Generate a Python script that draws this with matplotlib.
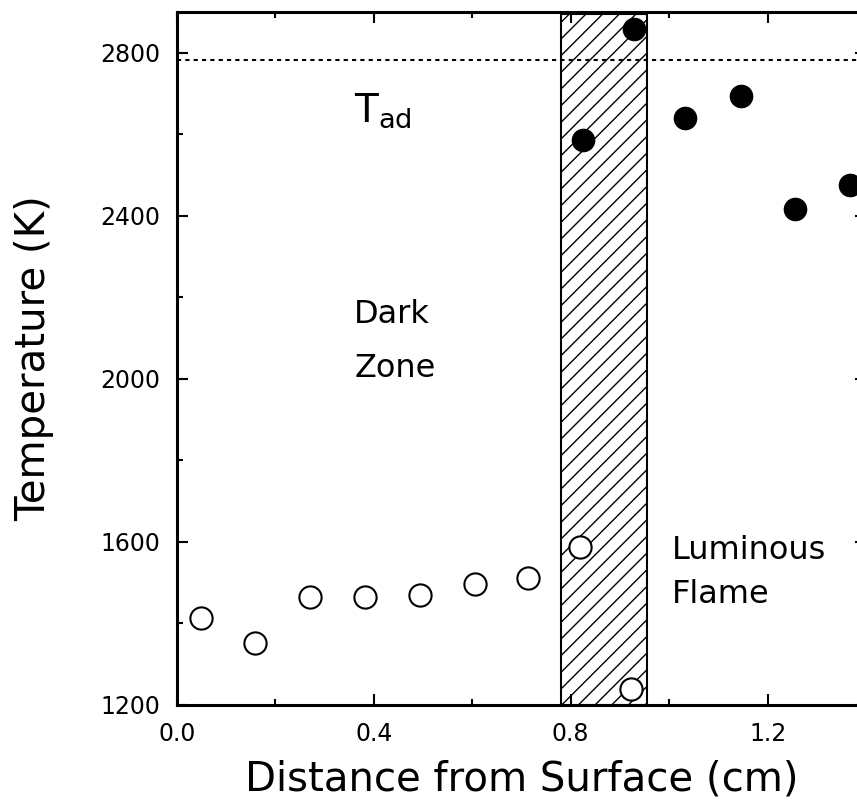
import matplotlib
matplotlib.use("Agg")
import matplotlib.pyplot as plt
from matplotlib.patches import Rectangle
from matplotlib.ticker import MultipleLocator

# Data
dark_x = [0.049, 0.158, 0.270, 0.382, 0.493, 0.605, 0.713, 0.818, 0.922]
dark_T = [1413, 1352, 1465, 1465, 1470, 1497, 1512, 1588, 1240]
lum_x = [0.824, 0.928, 1.033, 1.145, 1.255, 1.367]
lum_T = [2586, 2859, 2640, 2694, 2417, 2476]
T_ad = 2783
band_x = [0.780, 0.955]
band_top = 2895
x_ticks = [0.0, 0.4, 0.8, 1.2]
x_ticklabels = ["0.0", "0.4", "0.8", "1.2"]
y_ticks = [1200, 1600, 2000, 2400, 2800]

plt.rcParams['font.family'] = ['DejaVu Sans']
plt.rcParams['hatch.linewidth'] = 1.0

fig = plt.figure(figsize=(8.57, 8.08), dpi=100)
ax = fig.add_axes([177/857, 103/808, (866-177)/857, 693/808])

ax.set_xlim(0, 1.4)
ax.set_ylim(1200, 2900)

# hatched band
ax.add_patch(Rectangle((band_x[0], 1200), band_x[1]-band_x[0], band_top-1200,
                       facecolor='white', edgecolor='black', hatch='//',
                       linewidth=1.5, zorder=1))

# adiabatic temperature
ax.axhline(T_ad, color='black', linestyle=(0, (2, 2)), linewidth=1.5, zorder=2)

ax.plot(dark_x, dark_T, linestyle='none', marker='o', ms=16,
        mfc='white', mec='black', mew=1.5, zorder=3)
ax.plot(lum_x, lum_T, linestyle='none', marker='o', ms=16,
        mfc='black', mec='black', zorder=3)

# annotations
ax.text(0.36, 2630, r'$\mathregular{T_{ad}}$', fontsize=28, ha='left', va='baseline')
ax.text(0.36, 2137, 'Dark', fontsize=23, ha='left', va='baseline')
ax.text(0.36, 2005, 'Zone', fontsize=23, ha='left', va='baseline')
ax.text(1.005, 1558, 'Luminous', fontsize=23, ha='left', va='baseline')
ax.text(1.005, 1450, 'Flame', fontsize=23, ha='left', va='baseline')

ax.set_xticks(x_ticks)
ax.set_xticklabels(x_ticklabels)
ax.set_yticks(y_ticks)
ax.xaxis.set_minor_locator(MultipleLocator(0.2))
ax.yaxis.set_minor_locator(MultipleLocator(200))
ax.tick_params(which='both', direction='in', top=True, right=True, width=1.5)
ax.tick_params(which='major', length=8, labelsize=17, pad=12)
ax.tick_params(which='minor', length=4)

for s in ax.spines.values():
    s.set_linewidth(2.2)

ax.set_xlabel('Distance from Surface (cm)', fontsize=29, labelpad=10)
ax.set_ylabel('Temperature (K)', fontsize=29, labelpad=33)

fig.savefig('out.png', dpi=100)
